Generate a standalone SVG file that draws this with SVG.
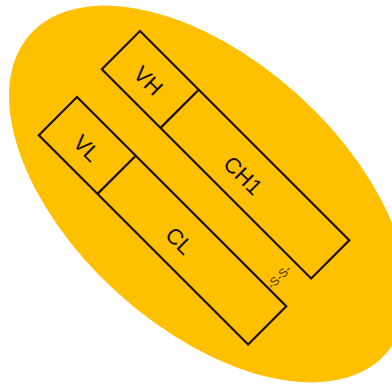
<svg xmlns="http://www.w3.org/2000/svg" width="392" height="388" viewBox="0 0 392 388">
<style>
.box{fill:none;stroke:#1c1000;stroke-width:2.2}
.lbl{font-family:"Liberation Sans",Arial,sans-serif;font-size:22px;fill:#140c00;text-anchor:middle}
.ss{font-family:"Liberation Sans",Arial,sans-serif;font-size:12px;fill:#4a3300;text-anchor:middle}
</style>
<rect width="392" height="388" fill="#ffffff"/>
<ellipse id="body" cx="208" cy="194" rx="239" ry="134" transform="rotate(42 208 194)" fill="#FFC000"/>
<g id="heavy" transform="translate(140,31) rotate(45)">
  <rect class="box" x="0" y="0" width="296" height="54"/>
  <line class="box" x1="83" y1="0" x2="83" y2="54"/>
  <text class="lbl" x="41" y="37">VH</text>
  <text class="lbl" x="175" y="37">CH1</text>
</g>
<g id="light" transform="translate(77,97) rotate(45)">
  <rect class="box" x="0" y="0" width="296" height="54"/>
  <line class="box" x1="83" y1="0" x2="83" y2="54"/>
  <text class="lbl" x="43" y="37">VL</text>
  <text class="lbl" x="174" y="37">CL</text>
</g>
<g id="connectors">
  <text class="ss" transform="translate(279,277) rotate(-45)" x="0" y="4">-S-S-</text>
</g>
</svg>
